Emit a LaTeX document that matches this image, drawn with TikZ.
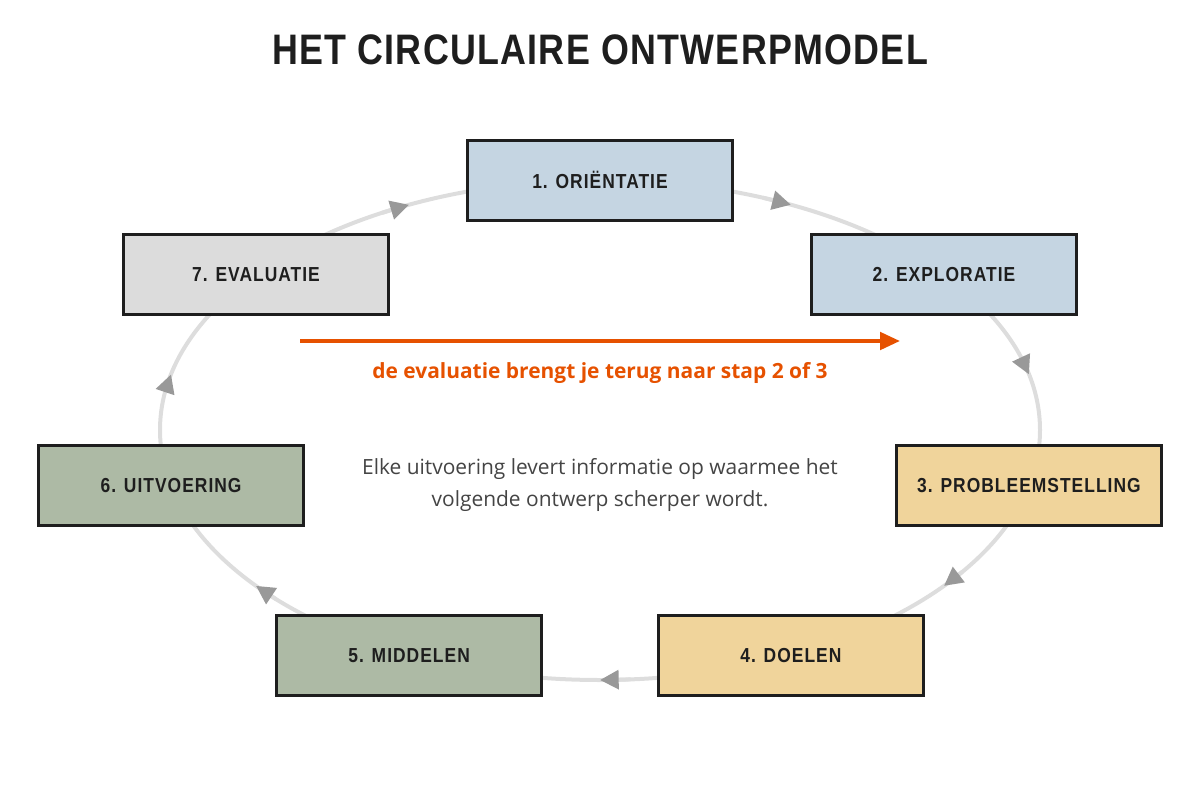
\documentclass[tikz,border=0pt]{standalone}
\usepackage{fontspec}
\setmainfont{Open Sans}
\newfontfamily\condfont[FakeStretch=0.84,LetterSpace=3]{Liberation Sans}
\newfontfamily\stagefont[FakeStretch=0.86,LetterSpace=5]{Liberation Sans}
\usetikzlibrary{arrows.meta}

\definecolor{bluegray}{HTML}{C5D5E2}
\definecolor{sand}{HTML}{F0D49B}
\definecolor{sage}{HTML}{ADBAA5}
\definecolor{paleg}{HTML}{DCDCDC}
\definecolor{ring}{HTML}{DDDDDD}
\definecolor{tipgray}{HTML}{999999}
\definecolor{signal}{HTML}{E65100}
\definecolor{ink}{HTML}{1E1E1E}
\definecolor{bodytext}{HTML}{444444}

\tikzset{
  stage/.style={draw=ink, line width=2.25pt, minimum width=199pt, minimum height=60pt,
    inner sep=0pt, text=ink, font=\stagefont\bfseries\fontsize{15.2}{18}\selectfont},
}

\begin{document}
\begin{tikzpicture}[x=0.75pt,y=-0.75pt]
        \useasboundingbox (0,0) rectangle (1200,800);
        \coordinate (O) at (600,430);
        \coordinate (fb1) at (300,341);
        \coordinate (fb2) at (900,341);

        \node[font=\condfont\bfseries\fontsize{32}{36}\selectfont, text=ink] (title) at (600,50) {HET CIRCULAIRE ONTWERPMODEL};

        % the cycle
        \draw[ring, line width=3pt] (O) ellipse [x radius=440, y radius=250];
        \foreach \k in {0,...,6}{
            \pgfmathsetmacro\t{-90+(\k+0.5)*360/7}
            \pgfmathsetmacro\s{\t-4}
            \draw[ring, line width=3pt, -{Triangle[length=14pt,width=14pt,color=tipgray]}]
                ([shift={(O)}] \s:440 and 250) -- ([shift={(O)}] \t:440 and 250);
        }

        \foreach \k/\txt/\col in {1/1. ORIËNTATIE/bluegray, 2/2. EXPLORATIE/bluegray,
            3/3. PROBLEEMSTELLING/sand, 4/4. DOELEN/sand, 5/5. MIDDELEN/sage,
            6/6. UITVOERING/sage, 7/7. EVALUATIE/paleg}{
            \pgfmathsetmacro\a{-90+(\k-1)*360/7}
            \node[stage, fill=\col] (s\k) at ([shift={(O)}] \a:440 and 250) {\txt};
        }

        % feedback
        \draw[signal, line width=3pt, -{Triangle[length=15pt,width=13pt]}] (fb1) -- (fb2);
        \node[text=signal, font=\bfseries\fontsize{15.7}{18}\selectfont] (fbtext) at (600,373)
            {de evaluatie brengt je terug naar stap 2 of 3};

        \node[text=bodytext, align=center, font=\fontsize{15.7}{24}\selectfont] (note) at (600,485)
            {Elke uitvoering levert informatie op waarmee het\\volgende ontwerp scherper wordt.};
\end{tikzpicture}
\end{document}
